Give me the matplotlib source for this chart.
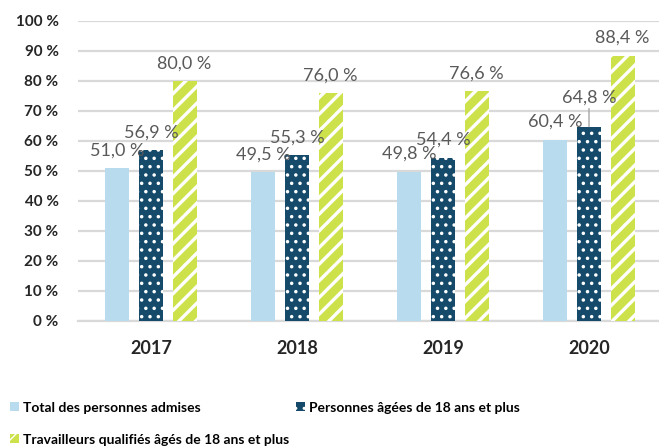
import numpy as np
import matplotlib
matplotlib.use("Agg")
import matplotlib.pyplot as plt
from matplotlib.patches import Patch

years = ["2017", "2018", "2019", "2020"]
total = [51.0, 49.5, 49.8, 60.4]
adults = [56.9, 55.3, 54.4, 64.8]
skilled = [80.0, 76.0, 76.6, 88.4]
series_names = ["Total des personnes admises",
                "Personnes âgées de 18 ans et plus",
                "Travailleurs qualifiés âgés de 18 ans et plus"]

light = "#b8dcee"
dark = "#154a6b"
green = "#cde14b"

plt.rcParams['font.family'] = ['Lato', 'DejaVu Sans']

fig = plt.figure(figsize=(6.59, 4.47), dpi=100)
ax = fig.add_axes([78 / 659, 1 - 321 / 447, (662 - 78) / 659, 300 / 447])

x = np.arange(len(years))
w = 0.164
step = 0.23


def fmt(v):
    return ("%.1f" % v).replace(".", ",") + " %"


b1 = ax.bar(x - step, total, w, color=light, linewidth=0, zorder=3)
with plt.rc_context({'hatch.linewidth': 1.3}):
    b2 = ax.bar(x, adults, w, color=dark, edgecolor="white", hatch="..",
                linewidth=0, zorder=3)
with plt.rc_context({'hatch.linewidth': 2.4}):
    b3 = ax.bar(x + step, skilled, w, color=green, edgecolor="white",
                hatch="//", linewidth=0, zorder=3)

lab = dict(ha="center", va="bottom", fontsize=13, color="#595959",
           textcoords="offset points")
for bars, vals in [(b1, total), (b2, adults), (b3, skilled)]:
    for i, (r, v) in enumerate(zip(bars, vals)):
        cx = r.get_x() + r.get_width() / 2
        if bars is b2 and i == 3:
            # this label was pushed up, with a leader line
            ax.annotate(fmt(v), (cx, v), xytext=(0, 15),
                        arrowprops=dict(arrowstyle="-", color="#a6a6a6",
                                        lw=1, shrinkA=0, shrinkB=0), **lab)
        else:
            ax.annotate(fmt(v), (cx, v), xytext=(0, 7), **lab)

ax.set_ylim(0, 100)
ax.set_xlim(-0.5, 3.5)
ax.set_yticks(range(0, 101, 10))
ax.set_yticklabels(["%d %%" % t for t in range(0, 101, 10)],
                   fontsize=11, fontweight="bold", color="#262626")
ax.set_xticks(x)
ax.set_xticklabels(years, fontsize=13, fontweight="bold", color="#262626")
ax.tick_params(axis="y", length=0, pad=14)
ax.tick_params(axis="x", length=0, pad=14)
ax.grid(axis="y", color="#d9d9d9", linewidth=1.6, zorder=0)
for s in ["top", "right", "left"]:
    ax.spines[s].set_visible(False)
ax.spines["bottom"].set_color("#d9d9d9")
ax.spines["bottom"].set_linewidth(1.6)

handles = [Patch(facecolor=light),
           Patch(facecolor=dark, edgecolor="white", hatch="..", linewidth=0),
           Patch(facecolor=green, edgecolor="white", hatch="//", linewidth=0)]
# legend fills column by column: put row 1 first, then row 2
order = [0, 2, 1]
leg = fig.legend([handles[i] for i in order], [series_names[i] for i in order],
                 loc="upper left", bbox_to_anchor=(-0.004, 1 - 389 / 447),
                 ncol=2, frameon=False, prop=dict(size=10, weight="bold"),
                 handlelength=0.65, handleheight=0.65, handletextpad=0.3,
                 columnspacing=0.5, labelspacing=1.45)

fig.savefig("out.png", dpi=100)
